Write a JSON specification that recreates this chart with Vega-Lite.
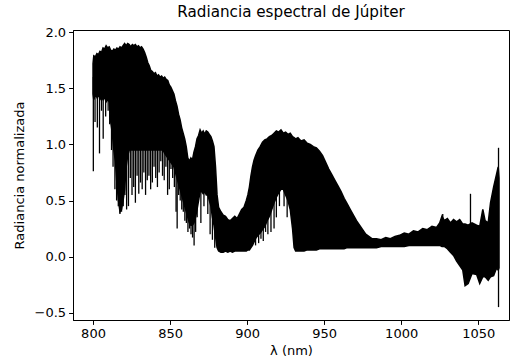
{
  "$schema": "https://vega.github.io/schema/vega-lite/v6.json",
  "width": 436,
  "height": 290,
  "autosize": {"type": "none"},
  "padding": {"left": 73, "top": 30, "right": 1, "bottom": 41},
  "background": "white",
  "title": {"text": "Radiancia espectral de Júpiter", "fontSize": 15.2, "fontWeight": "normal", "font": "DejaVu Sans", "color": "black", "offset": 6},
  "config": {
    "view": {"stroke": "black", "strokeWidth": 1},
    "axis": {
      "labelFont": "DejaVu Sans", "titleFont": "DejaVu Sans", "labelFontSize": 13, "titleFontSize": 13,
      "labelColor": "black", "titleColor": "black", "titleFontWeight": "normal",
      "domainColor": "black", "tickColor": "black", "tickSize": 4.4, "labelPadding": 3, "grid": false
    }
  },
  "datasets": {
    "env": [
      {"lam": 800.0, "lo": 1.45, "hi": 1.72}, {"lam": 800.5, "lo": 1.40, "hi": 1.79}, {"lam": 801.5, "lo": 1.45, "hi": 1.78},
      {"lam": 802.5, "lo": 1.42, "hi": 1.81}, {"lam": 803.5, "lo": 1.45, "hi": 1.80}, {"lam": 804.5, "lo": 1.40, "hi": 1.83},
      {"lam": 805.5, "lo": 1.42, "hi": 1.82}, {"lam": 806.5, "lo": 1.40, "hi": 1.86}, {"lam": 807.5, "lo": 1.42, "hi": 1.85},
      {"lam": 808.5, "lo": 1.38, "hi": 1.88}, {"lam": 809.5, "lo": 1.40, "hi": 1.86}, {"lam": 810.5, "lo": 1.38, "hi": 1.87},
      {"lam": 811.5, "lo": 1.20, "hi": 1.84}, {"lam": 812.5, "lo": 1.10, "hi": 1.83}, {"lam": 813.5, "lo": 0.95, "hi": 1.85},
      {"lam": 814.5, "lo": 0.85, "hi": 1.84}, {"lam": 815.5, "lo": 0.65, "hi": 1.86}, {"lam": 816.5, "lo": 0.50, "hi": 1.85},
      {"lam": 817.5, "lo": 0.40, "hi": 1.87}, {"lam": 818.5, "lo": 0.42, "hi": 1.86}, {"lam": 819.5, "lo": 0.50, "hi": 1.88},
      {"lam": 820.5, "lo": 0.60, "hi": 1.90}, {"lam": 821.5, "lo": 0.80, "hi": 1.88}, {"lam": 822.5, "lo": 0.90, "hi": 1.90},
      {"lam": 823.5, "lo": 0.95, "hi": 1.89}, {"lam": 824.5, "lo": 0.95, "hi": 1.87}, {"lam": 825.5, "lo": 0.95, "hi": 1.89},
      {"lam": 826.5, "lo": 0.95, "hi": 1.88}, {"lam": 827.5, "lo": 0.95, "hi": 1.89}, {"lam": 828.5, "lo": 0.95, "hi": 1.87},
      {"lam": 829.5, "lo": 0.95, "hi": 1.88}, {"lam": 830.5, "lo": 0.95, "hi": 1.86}, {"lam": 831.5, "lo": 0.95, "hi": 1.87},
      {"lam": 832.5, "lo": 0.95, "hi": 1.85}, {"lam": 833.5, "lo": 0.95, "hi": 1.82}, {"lam": 834.5, "lo": 0.95, "hi": 1.78},
      {"lam": 835.5, "lo": 0.95, "hi": 1.73}, {"lam": 836.5, "lo": 0.95, "hi": 1.70}, {"lam": 837.5, "lo": 0.95, "hi": 1.66},
      {"lam": 838.5, "lo": 0.95, "hi": 1.65}, {"lam": 839.5, "lo": 0.95, "hi": 1.63}, {"lam": 840.5, "lo": 0.95, "hi": 1.64},
      {"lam": 841.5, "lo": 0.95, "hi": 1.61}, {"lam": 842.5, "lo": 0.95, "hi": 1.62}, {"lam": 843.5, "lo": 0.95, "hi": 1.60},
      {"lam": 844.5, "lo": 0.95, "hi": 1.61}, {"lam": 845.5, "lo": 0.95, "hi": 1.59}, {"lam": 846.5, "lo": 0.92, "hi": 1.60},
      {"lam": 847.5, "lo": 0.90, "hi": 1.58}, {"lam": 848.5, "lo": 0.88, "hi": 1.57}, {"lam": 849.5, "lo": 0.86, "hi": 1.53},
      {"lam": 850.5, "lo": 0.84, "hi": 1.51}, {"lam": 851.5, "lo": 0.82, "hi": 1.48}, {"lam": 852.5, "lo": 0.80, "hi": 1.45},
      {"lam": 853.5, "lo": 0.75, "hi": 1.39}, {"lam": 854.5, "lo": 0.70, "hi": 1.34}, {"lam": 855.5, "lo": 0.65, "hi": 1.27},
      {"lam": 856.5, "lo": 0.60, "hi": 1.22}, {"lam": 857.5, "lo": 0.55, "hi": 1.15}, {"lam": 858.5, "lo": 0.50, "hi": 1.10},
      {"lam": 859.5, "lo": 0.45, "hi": 1.05}, {"lam": 860.5, "lo": 0.40, "hi": 0.98}, {"lam": 861.5, "lo": 0.35, "hi": 0.88},
      {"lam": 862.5, "lo": 0.30, "hi": 0.85}, {"lam": 863.5, "lo": 0.28, "hi": 0.88}, {"lam": 864.5, "lo": 0.28, "hi": 0.86},
      {"lam": 865.5, "lo": 0.30, "hi": 0.93}, {"lam": 866.5, "lo": 0.35, "hi": 0.98}, {"lam": 867.5, "lo": 0.42, "hi": 1.05},
      {"lam": 868.5, "lo": 0.50, "hi": 1.08}, {"lam": 869.5, "lo": 0.58, "hi": 1.13}, {"lam": 870.5, "lo": 0.58, "hi": 1.10},
      {"lam": 871.5, "lo": 0.56, "hi": 1.12}, {"lam": 872.5, "lo": 0.58, "hi": 1.09}, {"lam": 873.5, "lo": 0.55, "hi": 1.12},
      {"lam": 874.5, "lo": 0.55, "hi": 1.11}, {"lam": 875.5, "lo": 0.50, "hi": 1.09}, {"lam": 876.5, "lo": 0.45, "hi": 1.07},
      {"lam": 877.5, "lo": 0.35, "hi": 1.03}, {"lam": 878.5, "lo": 0.28, "hi": 0.98}, {"lam": 879.5, "lo": 0.18, "hi": 0.80},
      {"lam": 880.5, "lo": 0.08, "hi": 0.55}, {"lam": 881.5, "lo": 0.05, "hi": 0.44}, {"lam": 883, "lo": 0.04, "hi": 0.40},
      {"lam": 884.5, "lo": 0.04, "hi": 0.37}, {"lam": 886, "lo": 0.05, "hi": 0.36}, {"lam": 887.5, "lo": 0.04, "hi": 0.33},
      {"lam": 889, "lo": 0.05, "hi": 0.32}, {"lam": 890.5, "lo": 0.04, "hi": 0.34}, {"lam": 892, "lo": 0.05, "hi": 0.36},
      {"lam": 893.5, "lo": 0.05, "hi": 0.34}, {"lam": 895, "lo": 0.05, "hi": 0.38}, {"lam": 896.5, "lo": 0.05, "hi": 0.42},
      {"lam": 898, "lo": 0.05, "hi": 0.44}, {"lam": 899.5, "lo": 0.05, "hi": 0.50}, {"lam": 900.5, "lo": 0.06, "hi": 0.55},
      {"lam": 901.5, "lo": 0.06, "hi": 0.62}, {"lam": 902.5, "lo": 0.08, "hi": 0.72}, {"lam": 903.5, "lo": 0.10, "hi": 0.80},
      {"lam": 904.5, "lo": 0.13, "hi": 0.86}, {"lam": 905.5, "lo": 0.16, "hi": 0.90}, {"lam": 907, "lo": 0.19, "hi": 0.95},
      {"lam": 908.5, "lo": 0.21, "hi": 0.98}, {"lam": 910, "lo": 0.24, "hi": 1.02}, {"lam": 911.5, "lo": 0.27, "hi": 1.04},
      {"lam": 913, "lo": 0.32, "hi": 1.05}, {"lam": 914.5, "lo": 0.36, "hi": 1.07}, {"lam": 916, "lo": 0.42, "hi": 1.08},
      {"lam": 917.5, "lo": 0.48, "hi": 1.10}, {"lam": 919, "lo": 0.53, "hi": 1.12}, {"lam": 920.5, "lo": 0.57, "hi": 1.11},
      {"lam": 922, "lo": 0.60, "hi": 1.13}, {"lam": 923.5, "lo": 0.60, "hi": 1.10}, {"lam": 925, "lo": 0.55, "hi": 1.11},
      {"lam": 926.5, "lo": 0.50, "hi": 1.09}, {"lam": 928, "lo": 0.42, "hi": 1.10}, {"lam": 929.5, "lo": 0.25, "hi": 1.07},
      {"lam": 930.5, "lo": 0.08, "hi": 1.06}, {"lam": 931.5, "lo": 0.05, "hi": 1.05}, {"lam": 933, "lo": 0.05, "hi": 1.06},
      {"lam": 935, "lo": 0.05, "hi": 1.03}, {"lam": 937, "lo": 0.05, "hi": 1.04}, {"lam": 939, "lo": 0.06, "hi": 1.01},
      {"lam": 941, "lo": 0.06, "hi": 1.00}, {"lam": 943, "lo": 0.06, "hi": 0.98}, {"lam": 945, "lo": 0.06, "hi": 0.97},
      {"lam": 947, "lo": 0.07, "hi": 0.94}, {"lam": 949, "lo": 0.07, "hi": 0.90}, {"lam": 951, "lo": 0.07, "hi": 0.84},
      {"lam": 953, "lo": 0.07, "hi": 0.78}, {"lam": 955, "lo": 0.07, "hi": 0.73}, {"lam": 957, "lo": 0.07, "hi": 0.68},
      {"lam": 959, "lo": 0.07, "hi": 0.63}, {"lam": 961, "lo": 0.07, "hi": 0.58}, {"lam": 963, "lo": 0.07, "hi": 0.52},
      {"lam": 965, "lo": 0.08, "hi": 0.47}, {"lam": 967, "lo": 0.08, "hi": 0.42}, {"lam": 969, "lo": 0.08, "hi": 0.37},
      {"lam": 971, "lo": 0.08, "hi": 0.32}, {"lam": 973, "lo": 0.08, "hi": 0.28}, {"lam": 975, "lo": 0.08, "hi": 0.24},
      {"lam": 977, "lo": 0.08, "hi": 0.20}, {"lam": 979, "lo": 0.08, "hi": 0.18}, {"lam": 981, "lo": 0.08, "hi": 0.16},
      {"lam": 984, "lo": 0.08, "hi": 0.16}, {"lam": 987, "lo": 0.09, "hi": 0.15}, {"lam": 990, "lo": 0.09, "hi": 0.17},
      {"lam": 993, "lo": 0.09, "hi": 0.16}, {"lam": 996, "lo": 0.09, "hi": 0.18}, {"lam": 999, "lo": 0.09, "hi": 0.19},
      {"lam": 1002, "lo": 0.09, "hi": 0.21}, {"lam": 1005, "lo": 0.10, "hi": 0.20}, {"lam": 1008, "lo": 0.10, "hi": 0.23},
      {"lam": 1011, "lo": 0.10, "hi": 0.22}, {"lam": 1014, "lo": 0.10, "hi": 0.25}, {"lam": 1017, "lo": 0.10, "hi": 0.24},
      {"lam": 1020, "lo": 0.10, "hi": 0.27}, {"lam": 1023, "lo": 0.10, "hi": 0.26}, {"lam": 1025, "lo": 0.10, "hi": 0.30},
      {"lam": 1026.5, "lo": 0.09, "hi": 0.36}, {"lam": 1028, "lo": 0.09, "hi": 0.32}, {"lam": 1030, "lo": 0.07, "hi": 0.34},
      {"lam": 1032, "lo": 0.04, "hi": 0.30}, {"lam": 1034, "lo": 0.01, "hi": 0.33}, {"lam": 1036, "lo": -0.04, "hi": 0.31},
      {"lam": 1038, "lo": -0.08, "hi": 0.33}, {"lam": 1040, "lo": -0.12, "hi": 0.29}, {"lam": 1041.5, "lo": -0.26, "hi": 0.29},
      {"lam": 1043.5, "lo": -0.24, "hi": 0.28}, {"lam": 1046, "lo": -0.15, "hi": 0.30}, {"lam": 1049, "lo": -0.16, "hi": 0.28},
      {"lam": 1051, "lo": -0.24, "hi": 0.27}, {"lam": 1053, "lo": -0.18, "hi": 0.42}, {"lam": 1054.5, "lo": -0.18, "hi": 0.32},
      {"lam": 1056.5, "lo": -0.21, "hi": 0.30}, {"lam": 1058, "lo": -0.18, "hi": 0.48}, {"lam": 1060, "lo": -0.17, "hi": 0.62},
      {"lam": 1062, "lo": -0.10, "hi": 0.74}, {"lam": 1063, "lo": -0.12, "hi": 0.80}, {"lam": 1063.5, "lo": -0.10, "hi": 0.70}
    ],
    "spikes": [
      {"lam": 800.2, "a": 0.76, "b": 1.6}, {"lam": 801.3, "a": 1.20, "b": 1.6}, {"lam": 802.8, "a": 1.15, "b": 1.6},
      {"lam": 804.2, "a": 0.92, "b": 1.6}, {"lam": 805.5, "a": 1.30, "b": 1.6}, {"lam": 806.6, "a": 1.05, "b": 1.6},
      {"lam": 808.2, "a": 1.25, "b": 1.6}, {"lam": 809.8, "a": 1.30, "b": 1.6}, {"lam": 810.8, "a": 1.18, "b": 1.6},
      {"lam": 812, "a": 0.95, "b": 1.6}, {"lam": 813, "a": 0.80, "b": 1.6},
      {"lam": 814.2, "a": 0.60, "b": 1.5}, {"lam": 815.3, "a": 0.50, "b": 1.5}, {"lam": 816.4, "a": 0.45, "b": 1.5},
      {"lam": 817.5, "a": 0.38, "b": 1.5}, {"lam": 818.5, "a": 0.40, "b": 1.5}, {"lam": 819.6, "a": 0.45, "b": 1.5},
      {"lam": 820.7, "a": 0.55, "b": 1.5}, {"lam": 821.8, "a": 0.42, "b": 1.5}, {"lam": 823, "a": 0.45, "b": 1.5},
      {"lam": 824.2, "a": 0.70, "b": 1.5}, {"lam": 825.3, "a": 0.55, "b": 1.5}, {"lam": 826.4, "a": 0.62, "b": 1.5},
      {"lam": 827.5, "a": 0.48, "b": 1.5}, {"lam": 828.6, "a": 0.72, "b": 1.5}, {"lam": 829.7, "a": 0.56, "b": 1.5},
      {"lam": 830.8, "a": 0.66, "b": 1.5}, {"lam": 831.9, "a": 0.60, "b": 1.5}, {"lam": 833, "a": 0.75, "b": 1.5},
      {"lam": 834.1, "a": 0.55, "b": 1.5}, {"lam": 835.2, "a": 0.68, "b": 1.5}, {"lam": 836.3, "a": 0.72, "b": 1.5},
      {"lam": 837.4, "a": 0.60, "b": 1.5}, {"lam": 838.5, "a": 0.66, "b": 1.5}, {"lam": 839.6, "a": 0.80, "b": 1.5},
      {"lam": 840.7, "a": 0.70, "b": 1.5}, {"lam": 841.8, "a": 0.62, "b": 1.5}, {"lam": 842.9, "a": 0.75, "b": 1.5},
      {"lam": 844, "a": 0.85, "b": 1.5}, {"lam": 845.1, "a": 0.72, "b": 1.5}, {"lam": 846.2, "a": 0.68, "b": 1.5},
      {"lam": 847.3, "a": 0.80, "b": 1.5}, {"lam": 848.4, "a": 0.55, "b": 1.5}, {"lam": 849.5, "a": 0.60, "b": 1.5},
      {"lam": 850.6, "a": 0.78, "b": 1.4}, {"lam": 851.7, "a": 0.70, "b": 1.4}, {"lam": 852.8, "a": 0.62, "b": 1.4},
      {"lam": 853.9, "a": 0.40, "b": 1.3}, {"lam": 854.6, "a": 0.25, "b": 1.3}, {"lam": 855.6, "a": 0.55, "b": 1.2},
      {"lam": 856.6, "a": 0.50, "b": 1.0}, {"lam": 857.6, "a": 0.42, "b": 1.0}, {"lam": 858.6, "a": 0.40, "b": 1.0},
      {"lam": 859.6, "a": 0.32, "b": 0.9}, {"lam": 860.6, "a": 0.30, "b": 0.9}, {"lam": 861.6, "a": 0.22, "b": 0.8},
      {"lam": 862.6, "a": 0.25, "b": 0.8}, {"lam": 863.6, "a": 0.20, "b": 0.8}, {"lam": 864.6, "a": 0.17, "b": 0.8},
      {"lam": 865.6, "a": 0.10, "b": 0.8}, {"lam": 866.6, "a": 0.22, "b": 0.8}, {"lam": 867.6, "a": 0.35, "b": 0.8},
      {"lam": 870, "a": 0.30, "b": 0.8}, {"lam": 872, "a": 0.45, "b": 0.8}, {"lam": 874.5, "a": 0.38, "b": 0.8},
      {"lam": 876, "a": 0.20, "b": 0.8}, {"lam": 877.5, "a": 0.15, "b": 0.8}, {"lam": 879, "a": 0.08, "b": 0.6},
      {"lam": 905.5, "a": 0.10, "b": 0.5}, {"lam": 907.5, "a": 0.12, "b": 0.5}, {"lam": 909, "a": 0.16, "b": 0.5},
      {"lam": 910.5, "a": 0.14, "b": 0.5}, {"lam": 912, "a": 0.22, "b": 0.6}, {"lam": 913.5, "a": 0.20, "b": 0.6},
      {"lam": 915.5, "a": 0.22, "b": 0.7}, {"lam": 917.5, "a": 0.25, "b": 0.7}, {"lam": 919, "a": 0.35, "b": 0.8},
      {"lam": 921, "a": 0.45, "b": 0.8}, {"lam": 924, "a": 0.45, "b": 0.8}, {"lam": 926, "a": 0.35, "b": 0.8},
      {"lam": 1027, "a": 0.20, "b": 0.38}, {"lam": 1045, "a": 0.28, "b": 0.56}, {"lam": 1063.2, "a": -0.45, "b": 0.97}
    ]
  },
  "layer": [
    {
      "data": {"name": "env"},
      "mark": {"type": "area", "color": "black", "stroke": "black", "strokeWidth": 1.5, "clip": true},
      "encoding": {
        "x": {"field": "lam", "type": "quantitative", "scale": {"domain": [787, 1070], "nice": false, "zero": false},
          "axis": {"values": [800, 850, 900, 950, 1000, 1050], "format": "d", "title": "λ (nm)", "titlePadding": 4}},
        "y": {"field": "lo", "type": "quantitative", "scale": {"domain": [-0.565, 2.02], "nice": false, "zero": false},
          "axis": {"values": [-0.5, 0, 0.5, 1, 1.5, 2], "format": ".1f", "title": "Radiancia normalizada", "titlePadding": 8}},
        "y2": {"field": "hi"}
      }
    },
    {
      "data": {"name": "spikes"},
      "mark": {"type": "rule", "color": "black", "strokeWidth": 1.3, "clip": true},
      "encoding": {
        "x": {"field": "lam", "type": "quantitative"},
        "y": {"field": "a", "type": "quantitative"},
        "y2": {"field": "b"}
      }
    }
  ]
}
